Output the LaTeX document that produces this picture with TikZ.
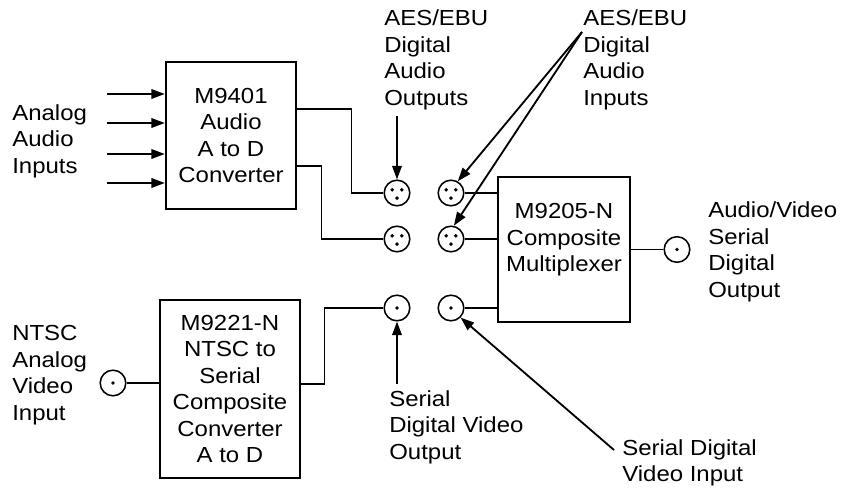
\documentclass[tikz,border=0pt]{standalone}
\usepackage{fontspec}
\setmainfont{Liberation Sans}[FakeStretch=1.1]
\usetikzlibrary{arrows.meta,calc,positioning}
\tikzset{
  mbox/.style={rectangle, draw=black, line width=1.6pt, align=center, inner sep=0pt},
  mlabel/.style={align=left, anchor=west, inner sep=0pt},
  mline/.style={line width=1.3pt},
  marrow/.style={-{Triangle[length=3.4mm, width=2.4mm]}, line width=1.3pt},
  jack/.style={circle, draw=black, line width=1.1pt, minimum size=6.4mm, inner sep=0pt},
  bnc/.style={jack, path picture={
      \fill (path picture bounding box.center) circle (1.4pt);}},
  xlr/.style={jack, path picture={
      \fill ([shift={(-0.12cm,0.08cm)}]path picture bounding box.center) circle (1.4pt);
      \fill ([shift={(0.12cm,0.08cm)}]path picture bounding box.center) circle (1.4pt);
      \fill ([shift={(0cm,-0.13cm)}]path picture bounding box.center) circle (1.4pt);}},
}
\begin{document}
\begin{tikzpicture}[x=0.025cm, y=-0.025cm, font=\fontsize{15.5}{18.85}\selectfont]
    \useasboundingbox (0,0) rectangle (850,492);
    \node[mbox, minimum width=3.25cm, minimum height=3.675cm] (m9401) at (231,135.5) {M9401\\Audio\\A to D\\Converter};
    \node[mbox, minimum width=3.5cm, minimum height=4.45cm] (m9221) at (230,389) {M9221-N\\NTSC to\\Serial\\Composite\\Converter\\A to D};
    \node[mbox, minimum width=3.3cm, minimum height=3.625cm] (mux) at (564,249.5) {};
    \node[align=center, inner sep=0pt] (muxtext) at ([yshift=0.24cm]mux.center) {M9205-N\\Composite\\Multiplexer};
    \node[xlr] (xlrA1) at (397,193) {};
    \node[xlr] (xlrA2) at (397,239) {};
    \node[xlr] (xlrB1) at (451,193) {};
    \node[xlr] (xlrB2) at (451,239) {};
    \node[bnc] (bncA) at (397,308) {};
    \node[bnc] (bncB) at (451,308) {};
    \node[bnc] (bncNTSC) at (113,383) {};
    \node[bnc] (bncOut) at (677,249.5) {};
    \node[mlabel] (ain) at (12,141) {Analog\\Audio\\Inputs};
    \node[mlabel] (aesout) at (384,60) {AES/EBU\\Digital\\Audio\\Outputs};
    \node[mlabel] (aesin) at (583,60) {AES/EBU\\Digital\\Audio\\Inputs};
    \node[mlabel] (avout) at (708,252) {Audio/Video\\Serial\\Digital\\Output};
    \node[mlabel] (ntscin) at (12,375) {NTSC\\Analog\\Video\\Input};
    \node[mlabel] (sdvo) at (389,427) {Serial\\Digital Video\\Output};
    \node[mlabel] (sdvi) at (622,463) {Serial Digital\\Video Input};
    \coordinate (aesinpt) at (582,32);
    \coordinate (sdvipt) at (614,450);
    \foreach \y [count=\i] in {94,123,154,183} {
        \coordinate (ain\i) at (107,\y);
        \draw[marrow] (ain\i) -- (m9401.west |- ain\i);
    }
    \draw[mline] ($(m9401.north east)+(0,48)$) -| ($(xlrA1.west)+(-32,0)$) -- (xlrA1.west);
    \draw[mline] ($(m9401.south east)+(0,-44)$) -| ($(xlrA2.west)+(-62,0)$) -- (xlrA2.west);
    \draw[mline] ($(m9221.east)+(0,-5)$) -| ($(bncA.west)+(-59,0)$) -- (bncA.west);
    \draw[mline] (bncNTSC.east) -- (m9221.west |- bncNTSC);
    \draw[mline] (xlrB1.east) -- (mux.west |- xlrB1);
    \draw[mline] (xlrB2.east) -- (mux.west |- xlrB2);
    \draw[mline] (bncB.east) -- (mux.west |- bncB);
    \draw[mline] (mux.east) -- (bncOut.west);
    \draw[marrow] ($(aesout.south -| xlrA1)+(0,6)$) -- (xlrA1.north);
    \draw[marrow] (aesinpt) -- (xlrB1.60);
    \draw[marrow] (aesinpt) -- (xlrB2.78);
    \draw[marrow] ($(sdvo.north -| bncA)+(0,-6)$) -- (bncA.south);
    \draw[marrow] (sdvipt) -- (bncB.-45);
\end{tikzpicture}
\end{document}
